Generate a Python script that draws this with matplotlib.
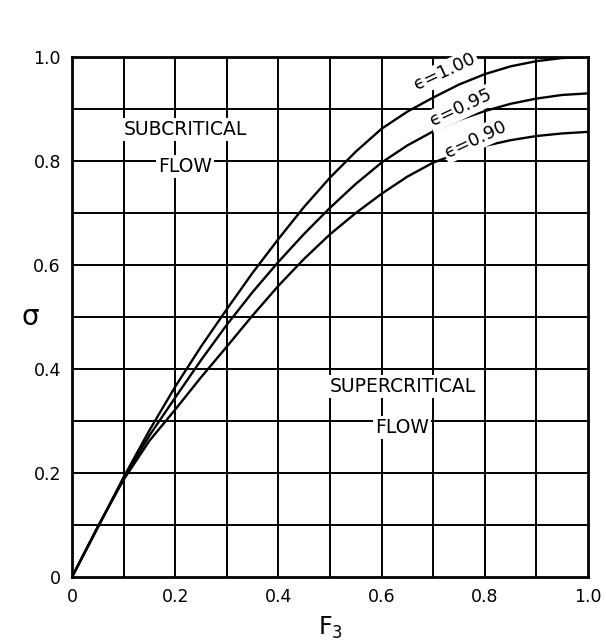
import numpy as np
import matplotlib
matplotlib.use("Agg")
from matplotlib import pyplot as plt

# Froude number F3 and sigma
f3 = [0, 0.05, 0.1, 0.15, 0.2, 0.25, 0.3, 0.35, 0.4, 0.45, 0.5, 0.55, 0.6, 0.65, 0.7, 0.75, 0.8, 0.85, 0.9, 0.95, 1.0]
sigma_100 = [0, 0.095, 0.192, 0.282, 0.366, 0.443, 0.515, 0.585, 0.650, 0.712, 0.768, 0.818, 0.862, 0.895, 0.922, 0.947, 0.967, 0.982, 0.992, 0.998, 1.0]
sigma_095 = [0, 0.096, 0.190, 0.272, 0.345, 0.417, 0.485, 0.548, 0.606, 0.660, 0.710, 0.756, 0.797, 0.830, 0.857, 0.879, 0.896, 0.910, 0.920, 0.927, 0.930]
sigma_090 = [0, 0.097, 0.187, 0.262, 0.322, 0.384, 0.443, 0.503, 0.560, 0.612, 0.659, 0.700, 0.737, 0.770, 0.797, 0.815, 0.829, 0.840, 0.848, 0.853, 0.856]

curve_labels = ["\u03f5=1.00", "\u03f5=0.95", "\u03f5=0.90"]
label_pos = [(0.723, 0.971), (0.754, 0.902), (0.783, 0.842)]

tick_vals = [0, 0.2, 0.4, 0.6, 0.8, 1.0]
tick_text = ["0", "0.2", "0.4", "0.6", "0.8", "1.0"]

fig = plt.figure(figsize=(6.06, 6.41), dpi=100)
ax = fig.add_axes([0.1188, 0.0998, 0.8515, 0.8113])

# grid every 0.1 in both directions
grid = np.arange(0.1, 1.0, 0.1)
for g in grid:
    ax.axvline(g, color="black", lw=1.4, zorder=1)
    ax.axhline(g, color="black", lw=1.4, zorder=1)

for ys in (sigma_100, sigma_095, sigma_090):
    ax.plot(f3, ys, color="black", lw=1.7, zorder=3)

box = dict(facecolor="white", edgecolor="none", pad=1.5)
for txt, (x, y) in zip(curve_labels, label_pos):
    ax.text(x, y, txt, rotation=25, ha="center", va="center", fontsize=13,
            bbox=box, zorder=4)

ax.text(0.219, 0.86, "SUBCRITICAL", ha="center", va="center", fontsize=13.5, bbox=box, zorder=4)
ax.text(0.219, 0.789, "FLOW", ha="center", va="center", fontsize=13.5, bbox=box, zorder=4)
ax.text(0.641, 0.366, "SUPERCRITICAL", ha="center", va="center", fontsize=13.5, bbox=box, zorder=4)
ax.text(0.639, 0.288, "FLOW", ha="center", va="center", fontsize=13.5, bbox=box, zorder=4)

ax.set_xlim(0, 1.0)
ax.set_ylim(0, 1.0)
ax.set_xticks(tick_vals)
ax.set_xticklabels(tick_text)
ax.set_yticks(tick_vals)
ax.set_yticklabels(tick_text)
ax.tick_params(length=0, labelsize=12.5, pad=8)
for s in ax.spines.values():
    s.set_linewidth(2)

ax.set_xlabel("F$_3$", fontsize=17, labelpad=6)
ax.set_ylabel("\u03c3", fontsize=20, rotation=0, labelpad=2, va="center")

fig.savefig("out.png", dpi=100)
